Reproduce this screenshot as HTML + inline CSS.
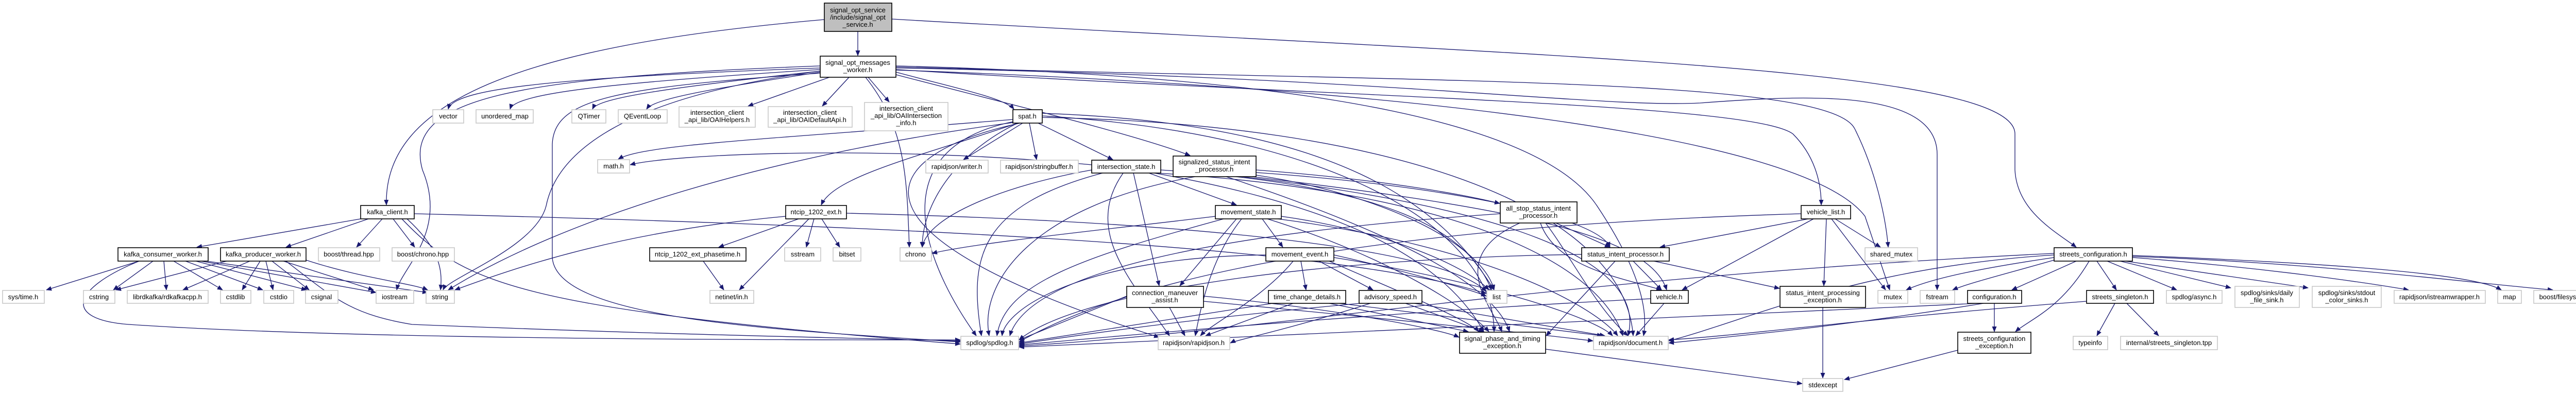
<!DOCTYPE html>
<html><head><meta charset="utf-8"><style>
html,body{margin:0;padding:0;background:#fff;}
svg{display:block;}
text{font-family:"Liberation Sans",sans-serif;font-size:13px;fill:#000;text-anchor:middle;}
.e path{fill:none;stroke:#191970;stroke-width:1.3;}
.d{fill:#fff;stroke:#000;stroke-width:1.6;}
.x{fill:#fff;stroke:#c8c8c8;stroke-width:1.6;}
.g{fill:#bfbfbf;stroke:#000;stroke-width:1.6;}
</style></head><body>
<svg width="5128" height="767" viewBox="0 0 5128 767" xmlns="http://www.w3.org/2000/svg">
<defs><marker id="a" markerUnits="userSpaceOnUse" markerWidth="11" markerHeight="9" refX="10" refY="4.5" orient="auto"><path d="M0,0 L11,4.5 L0,9 z" fill="#191970"/></marker></defs>
<g class="e" marker-end="url(#a)">
<path marker-end="url(#a)" d="M1665,61 L1665,108"/>
<path marker-end="url(#a)" d="M1600,38 C1000,90 745,200 750,398"/>
<path marker-end="url(#a)" d="M1731,37 C3000,110 3911,130 3911,260 L3911,330 C3915,410 3990,450 4030,480"/>
<path marker-end="url(#a)" d="M1592,132 C1100,150 880,170 870,212"/>
<path marker-end="url(#a)" d="M1592,135 C1200,160 1000,180 990,212"/>
<path marker-end="url(#a)" d="M1592,138 C1300,170 1160,190 1150,212"/>
<path marker-end="url(#a)" d="M1592,140 C1400,170 1270,190 1255,212"/>
<path marker-end="url(#a)" d="M1610,150 L1452,206"/>
<path marker-end="url(#a)" d="M1648,150 L1596,206"/>
<path marker-end="url(#a)" d="M1685,150 L1726,198"/>
<path marker-end="url(#a)" d="M1739,140 C1850,170 1950,190 1968,212"/>
<path marker-end="url(#a)" d="M1739,145 C1950,200 2200,260 2310,302"/>
<path marker-end="url(#a)" d="M1739,135 C2600,190 3400,200 3480,260 C3520,300 3535,350 3535,398"/>
<path marker-end="url(#a)" d="M1739,130 C2800,160 3550,150 3600,250 C3640,330 3660,420 3665,480"/>
<path marker-end="url(#a)" d="M1739,132 C2700,150 3100,210 3300,200 C3500,185 3760,170 3760,300 L3760,563"/>
<path marker-end="url(#a)" d="M1592,128 C1000,150 780,190 820,330 C870,450 780,520 770,563"/>
<path marker-end="url(#a)" d="M1592,138 C1200,190 1080,300 1060,400 C1040,480 870,540 860,563"/>
<path marker-end="url(#a)" d="M1592,142 C1200,170 1075,190 1072,280 L1072,500 C1080,620 1500,640 1864,664"/>
<path marker-end="url(#a)" d="M1680,150 C1760,250 1760,350 1765,480"/>
<path marker-end="url(#a)" d="M1739,128 C2600,150 3000,250 3100,400 C3180,520 3200,600 3190,652"/>
<path marker-end="url(#a)" d="M1739,136 C2700,170 3500,260 3620,420 L3668,563"/>
<path marker-end="url(#a)" d="M1985,239 L1870,310"/>
<path marker-end="url(#a)" d="M1998,239 L2012,310"/>
<path marker-end="url(#a)" d="M2015,239 L2160,310"/>
<path marker-end="url(#a)" d="M1966,232 C1500,270 1250,280 1200,309"/>
<path marker-end="url(#a)" d="M1975,239 C1800,300 1620,340 1594,398"/>
<path marker-end="url(#a)" d="M1975,239 C1850,300 1790,400 1790,480"/>
<path marker-end="url(#a)" d="M1968,236 C1700,290 1800,520 1895,652"/>
<path marker-end="url(#a)" d="M1980,239 C1700,300 1600,450 2250,655"/>
<path marker-end="url(#a)" d="M2023,220 C2600,240 2800,400 2900,563"/>
<path marker-end="url(#a)" d="M2023,225 C2600,260 2900,450 2900,644"/>
<path marker-end="url(#a)" d="M2023,228 C2700,240 3150,400 3170,652"/>
<path marker-end="url(#a)" d="M1966,238 C1500,300 1100,420 870,563"/>
<path marker-end="url(#a)" d="M2230,336 L2400,398"/>
<path marker-end="url(#a)" d="M2200,336 L2250,555"/>
<path marker-end="url(#a)" d="M2140,336 C1900,400 1880,500 1905,652"/>
<path marker-end="url(#a)" d="M2180,336 C2100,450 2200,550 2270,652"/>
<path marker-end="url(#a)" d="M2240,336 C2600,400 2800,500 2880,644"/>
<path marker-end="url(#a)" d="M2245,336 C2800,370 3100,500 3150,652"/>
<path marker-end="url(#a)" d="M2253,330 C2700,360 2850,450 2895,563"/>
<path marker-end="url(#a)" d="M2119,330 C1950,360 1800,420 1790,480"/>
<path marker-end="url(#a)" d="M2119,320 C1700,280 1300,300 1223,320"/>
<path marker-end="url(#a)" d="M2438,330 C2700,350 2850,380 2911,395"/>
<path marker-end="url(#a)" d="M2438,335 C2800,360 3100,420 3125,480"/>
<path marker-end="url(#a)" d="M2430,343 C2900,400 3200,450 3235,563"/>
<path marker-end="url(#a)" d="M2320,343 C2000,400 1900,550 1920,652"/>
<path marker-end="url(#a)" d="M2410,343 C2900,400 3200,500 3160,652"/>
<path marker-end="url(#a)" d="M2380,343 C2700,450 2900,550 2930,644"/>
<path marker-end="url(#a)" d="M2438,340 C2700,380 2880,480 2900,563"/>
<path marker-end="url(#a)" d="M2450,425 L2490,480"/>
<path marker-end="url(#a)" d="M2400,425 L2290,555"/>
<path marker-end="url(#a)" d="M2375,425 C2100,500 1950,550 1935,652"/>
<path marker-end="url(#a)" d="M2410,425 C2350,500 2330,600 2320,652"/>
<path marker-end="url(#a)" d="M2460,425 C2700,500 2850,600 2890,644"/>
<path marker-end="url(#a)" d="M2480,425 C2900,480 3100,600 3140,652"/>
<path marker-end="url(#a)" d="M2487,420 C2700,450 2850,520 2890,563"/>
<path marker-end="url(#a)" d="M2359,420 C2200,440 1900,470 1809,492"/>
<path marker-end="url(#a)" d="M2525,507 L2535,563"/>
<path marker-end="url(#a)" d="M2560,507 L2665,563"/>
<path marker-end="url(#a)" d="M2457,495 C2100,500 1950,600 1945,652"/>
<path marker-end="url(#a)" d="M2510,507 C2450,580 2350,630 2330,652"/>
<path marker-end="url(#a)" d="M2580,507 C2700,560 2850,620 2870,644"/>
<path marker-end="url(#a)" d="M2589,500 C2900,550 3100,620 3130,652"/>
<path marker-end="url(#a)" d="M2589,495 C2700,520 2850,560 2885,575"/>
<path marker-end="url(#a)" d="M2187,575 L1978,660"/>
<path marker-end="url(#a)" d="M2270,597 L2300,652"/>
<path marker-end="url(#a)" d="M2336,575 C2600,600 2800,640 2832,655"/>
<path marker-end="url(#a)" d="M2336,585 C2700,620 3000,650 3092,662"/>
<path marker-end="url(#a)" d="M2470,589 L1978,666"/>
<path marker-end="url(#a)" d="M2510,589 L2340,652"/>
<path marker-end="url(#a)" d="M2580,589 L2850,644"/>
<path marker-end="url(#a)" d="M2600,589 L3110,652"/>
<path marker-end="url(#a)" d="M2640,589 C2300,620 2100,650 1978,668"/>
<path marker-end="url(#a)" d="M2660,589 C2500,640 2400,660 2388,666"/>
<path marker-end="url(#a)" d="M2728,589 L2880,644"/>
<path marker-end="url(#a)" d="M2745,589 L3115,652"/>
<path marker-end="url(#a)" d="M3020,433 L3125,480"/>
<path marker-end="url(#a)" d="M2990,433 C3020,520 3150,540 3225,563"/>
<path marker-end="url(#a)" d="M2912,415 C2400,450 2000,520 1960,652"/>
<path marker-end="url(#a)" d="M3000,433 C3050,500 3100,600 3160,652"/>
<path marker-end="url(#a)" d="M2950,433 C2800,500 2900,600 2915,644"/>
<path marker-end="url(#a)" d="M3170,507 L3225,563"/>
<path marker-end="url(#a)" d="M3210,507 L3454,560"/>
<path marker-end="url(#a)" d="M3070,494 C2600,500 2100,560 1978,660"/>
<path marker-end="url(#a)" d="M3135,507 L3001,652"/>
<path marker-end="url(#a)" d="M3520,425 L3265,563"/>
<path marker-end="url(#a)" d="M3510,425 L3222,480"/>
<path marker-end="url(#a)" d="M3545,425 L3540,555"/>
<path marker-end="url(#a)" d="M3555,425 L3660,563"/>
<path marker-end="url(#a)" d="M3562,425 L3650,480"/>
<path marker-end="url(#a)" d="M3496,415 C3000,430 2300,480 1978,664"/>
<path marker-end="url(#a)" d="M3230,589 L3175,652"/>
<path marker-end="url(#a)" d="M3204,580 C2800,600 2300,640 1978,670"/>
<path marker-end="url(#a)" d="M3538,597 L3538,734"/>
<path marker-end="url(#a)" d="M3000,678 L3498,745"/>
<path marker-end="url(#a)" d="M3800,680 L3580,737"/>
<path marker-end="url(#a)" d="M4030,507 L3905,563"/>
<path marker-end="url(#a)" d="M4070,507 L4108,563"/>
<path marker-end="url(#a)" d="M4055,507 C4000,600 3940,620 3912,644"/>
<path marker-end="url(#a)" d="M4090,507 L4225,563"/>
<path marker-end="url(#a)" d="M4115,507 L4330,559"/>
<path marker-end="url(#a)" d="M4125,507 L4480,559"/>
<path marker-end="url(#a)" d="M4139,500 C4400,520 4600,550 4675,563"/>
<path marker-end="url(#a)" d="M4139,496 C4500,510 4800,530 4855,563"/>
<path marker-end="url(#a)" d="M4139,498 C4500,510 4800,550 4955,563"/>
<path marker-end="url(#a)" d="M3987,500 C3850,520 3750,540 3700,563"/>
<path marker-end="url(#a)" d="M3987,505 C3900,530 3820,550 3790,563"/>
<path marker-end="url(#a)" d="M3987,495 C3600,520 3400,620 3239,662"/>
<path marker-end="url(#a)" d="M3987,492 C3000,540 2500,640 1978,672"/>
<path marker-end="url(#a)" d="M3871,589 L3871,644"/>
<path marker-end="url(#a)" d="M3850,589 C3600,630 3400,650 3239,666"/>
<path marker-end="url(#a)" d="M3840,589 C3000,630 2500,650 1978,674"/>
<path marker-end="url(#a)" d="M4105,589 L4070,652"/>
<path marker-end="url(#a)" d="M4128,589 L4190,652"/>
<path marker-end="url(#a)" d="M4050,585 C3600,620 3400,650 3239,660"/>
<path marker-end="url(#a)" d="M700,425 L382,480"/>
<path marker-end="url(#a)" d="M715,425 L555,480"/>
<path marker-end="url(#a)" d="M742,425 L692,480"/>
<path marker-end="url(#a)" d="M763,425 L805,480"/>
<path marker-end="url(#a)" d="M780,425 C900,550 1000,600 1864,668"/>
<path marker-end="url(#a)" d="M804,415 C1800,440 2600,480 2885,570"/>
<path marker-end="url(#a)" d="M790,425 C850,480 860,520 855,563"/>
<path marker-end="url(#a)" d="M270,507 L90,563"/>
<path marker-end="url(#a)" d="M297,507 L220,563"/>
<path marker-end="url(#a)" d="M318,507 L323,563"/>
<path marker-end="url(#a)" d="M337,507 L432,563"/>
<path marker-end="url(#a)" d="M360,507 L510,563"/>
<path marker-end="url(#a)" d="M380,507 L595,563"/>
<path marker-end="url(#a)" d="M390,507 L730,568"/>
<path marker-end="url(#a)" d="M400,507 L830,568"/>
<path marker-end="url(#a)" d="M270,507 C140,560 120,620 250,630 C700,660 1500,660 1864,660"/>
<path marker-end="url(#a)" d="M440,507 L225,563"/>
<path marker-end="url(#a)" d="M485,507 L355,563"/>
<path marker-end="url(#a)" d="M505,507 L470,563"/>
<path marker-end="url(#a)" d="M516,507 L530,563"/>
<path marker-end="url(#a)" d="M528,507 L600,563"/>
<path marker-end="url(#a)" d="M550,507 L725,563"/>
<path marker-end="url(#a)" d="M594,505 C700,540 800,550 830,563"/>
<path marker-end="url(#a)" d="M555,507 C650,580 680,610 800,630 C1300,650 1600,655 1864,662"/>
<path marker-end="url(#a)" d="M1550,425 L1395,480"/>
<path marker-end="url(#a)" d="M1580,425 L1565,480"/>
<path marker-end="url(#a)" d="M1595,425 L1630,480"/>
<path marker-end="url(#a)" d="M1570,425 L1435,563"/>
<path marker-end="url(#a)" d="M1525,420 C1200,450 1000,520 883,563"/>
<path marker-end="url(#a)" d="M1643,414 C2300,430 2800,480 2885,566"/>
<path marker-end="url(#a)" d="M1365,507 L1405,563"/>
</g>
<rect class="g" x="1600" y="6" width="131" height="55"/>
<text x="1665" y="24">signal_opt_service</text><text x="1665" y="38">/include/signal_opt</text><text x="1665" y="52">_service.h</text>

<rect class="d" x="1592" y="109" width="147" height="41"/>
<text x="1665" y="126">signal_opt_messages</text><text x="1665" y="140">_worker.h</text>

<rect class="x" x="840" y="213" width="60" height="26"/><text x="870" y="230">vector</text>
<rect class="x" x="924" y="213" width="111" height="26"/><text x="980" y="230">unordered_map</text>
<rect class="x" x="1110" y="213" width="66" height="26"/><text x="1143" y="230">QTimer</text>
<rect class="x" x="1200" y="213" width="95" height="26"/><text x="1247" y="230">QEventLoop</text>
<rect class="x" x="1318" y="207" width="148" height="40"/><text x="1392" y="223">intersection_client</text><text x="1392" y="237">_api_lib/OAIHelpers.h</text>
<rect class="x" x="1491" y="207" width="163" height="40"/><text x="1572" y="223">intersection_client</text><text x="1572" y="237">_api_lib/OAIDefaultApi.h</text>
<rect class="x" x="1678" y="199" width="162" height="55"/><text x="1759" y="215">intersection_client</text><text x="1759" y="229">_api_lib/OAIIntersection</text><text x="1759" y="243">_info.h</text>
<rect class="d" x="1966" y="213" width="57" height="26"/><text x="1994" y="230">spat.h</text>

<rect class="x" x="1160" y="310" width="62" height="26"/><text x="1191" y="327">math.h</text>
<rect class="x" x="1797" y="311" width="121" height="25"/><text x="1857" y="328">rapidjson/writer.h</text>
<rect class="x" x="1942" y="311" width="151" height="25"/><text x="2017" y="328">rapidjson/stringbuffer.h</text>
<rect class="d" x="2119" y="311" width="134" height="25"/><text x="2186" y="328">intersection_state.h</text>
<rect class="d" x="2277" y="303" width="161" height="40"/><text x="2357" y="319">signalized_status_intent</text><text x="2357" y="333">_processor.h</text>

<rect class="d" x="700" y="399" width="104" height="26"/><text x="752" y="416">kafka_client.h</text>
<rect class="d" x="1525" y="399" width="118" height="26"/><text x="1584" y="416">ntcip_1202_ext.h</text>
<rect class="d" x="2359" y="399" width="128" height="26"/><text x="2423" y="416">movement_state.h</text>
<rect class="d" x="2912" y="392" width="149" height="41"/><text x="2986" y="409">all_stop_status_intent</text><text x="2986" y="423">_processor.h</text>
<rect class="d" x="3496" y="399" width="96" height="26"/><text x="3544" y="416">vehicle_list.h</text>

<rect class="d" x="229" y="481" width="175" height="26"/><text x="316" y="498">kafka_consumer_worker.h</text>
<rect class="d" x="428" y="481" width="166" height="26"/><text x="511" y="498">kafka_producer_worker.h</text>
<rect class="x" x="618" y="481" width="119" height="26"/><text x="677" y="498">boost/thread.hpp</text>
<rect class="x" x="761" y="481" width="121" height="26"/><text x="821" y="498">boost/chrono.hpp</text>
<rect class="d" x="1261" y="481" width="187" height="26"/><text x="1354" y="498">ntcip_1202_ext_phasetime.h</text>
<rect class="x" x="1523" y="481" width="70" height="26"/><text x="1558" y="498">sstream</text>
<rect class="x" x="1617" y="481" width="54" height="26"/><text x="1644" y="498">bitset</text>
<rect class="x" x="1747" y="481" width="61" height="26"/><text x="1777" y="498">chrono</text>
<rect class="d" x="2457" y="481" width="132" height="26"/><text x="2523" y="498">movement_event.h</text>
<rect class="d" x="3070" y="481" width="170" height="26"/><text x="3155" y="498">status_intent_processor.h</text>
<rect class="x" x="3620" y="481" width="102" height="26"/><text x="3671" y="498">shared_mutex</text>
<rect class="d" x="3987" y="481" width="152" height="26"/><text x="4063" y="498">streets_configuration.h</text>

<rect class="x" x="5" y="564" width="81" height="25"/><text x="45" y="581">sys/time.h</text>
<rect class="x" x="162" y="564" width="61" height="25"/><text x="192" y="581">cstring</text>
<rect class="x" x="247" y="564" width="157" height="25"/><text x="325" y="581">librdkafka/rdkafkacpp.h</text>
<rect class="x" x="428" y="564" width="59" height="25"/><text x="457" y="581">cstdlib</text>
<rect class="x" x="512" y="564" width="58" height="25"/><text x="541" y="581">cstdio</text>
<rect class="x" x="593" y="564" width="63" height="25"/><text x="624" y="581">csignal</text>
<rect class="x" x="730" y="564" width="73" height="25"/><text x="766" y="581">iostream</text>
<rect class="x" x="827" y="564" width="55" height="25"/><text x="854" y="581">string</text>
<rect class="x" x="1378" y="564" width="85" height="25"/><text x="1420" y="581">netinet/in.h</text>
<rect class="d" x="2187" y="556" width="149" height="41"/><text x="2261" y="573">connection_maneuver</text><text x="2261" y="587">_assist.h</text>
<rect class="d" x="2462" y="564" width="150" height="25"/><text x="2537" y="581">time_change_details.h</text>
<rect class="d" x="2638" y="564" width="122" height="25"/><text x="2699" y="581">advisory_speed.h</text>
<rect class="x" x="2886" y="564" width="39" height="25"/><text x="2905" y="581">list</text>
<rect class="d" x="3204" y="564" width="73" height="25"/><text x="3240" y="581">vehicle.h</text>
<rect class="d" x="3455" y="556" width="166" height="41"/><text x="3538" y="573">status_intent_processing</text><text x="3538" y="587">_exception.h</text>
<rect class="x" x="3645" y="564" width="58" height="25"/><text x="3674" y="581">mutex</text>
<rect class="x" x="3727" y="564" width="67" height="25"/><text x="3760" y="581">fstream</text>
<rect class="d" x="3819" y="564" width="105" height="25"/><text x="3871" y="581">configuration.h</text>
<rect class="d" x="4050" y="564" width="130" height="25"/><text x="4115" y="581">streets_singleton.h</text>
<rect class="x" x="4205" y="564" width="108" height="25"/><text x="4259" y="581">spdlog/async.h</text>
<rect class="x" x="4338" y="556" width="125" height="41"/><text x="4400" y="573">spdlog/sinks/daily</text><text x="4400" y="587">_file_sink.h</text>
<rect class="x" x="4488" y="556" width="134" height="41"/><text x="4555" y="573">spdlog/sinks/stdout</text><text x="4555" y="587">_color_sinks.h</text>
<rect class="x" x="4647" y="564" width="177" height="25"/><text x="4735" y="581">rapidjson/istreamwrapper.h</text>
<rect class="x" x="4848" y="564" width="46" height="25"/><text x="4871" y="581">map</text>
<rect class="x" x="4918" y="564" width="205" height="25"/><text x="5020" y="581">boost/filesystem/operations.hpp</text>

<rect class="x" x="1865" y="653" width="112" height="26"/><text x="1921" y="670">spdlog/spdlog.h</text>
<rect class="x" x="2248" y="653" width="139" height="26"/><text x="2317" y="670">rapidjson/rapidjson.h</text>
<rect class="d" x="2833" y="645" width="167" height="41"/><text x="2916" y="662">signal_phase_and_timing</text><text x="2916" y="676">_exception.h</text>
<rect class="x" x="3093" y="653" width="145" height="26"/><text x="3165" y="670">rapidjson/document.h</text>
<rect class="d" x="3800" y="645" width="142" height="41"/><text x="3871" y="662">streets_configuration</text><text x="3871" y="676">_exception.h</text>
<rect class="x" x="4024" y="653" width="67" height="26"/><text x="4057" y="670">typeinfo</text>
<rect class="x" x="4116" y="653" width="188" height="26"/><text x="4210" y="670">internal/streets_singleton.tpp</text>
<rect class="x" x="3499" y="735" width="78" height="25"/><text x="3538" y="752">stdexcept</text>
</svg>
</body></html>
